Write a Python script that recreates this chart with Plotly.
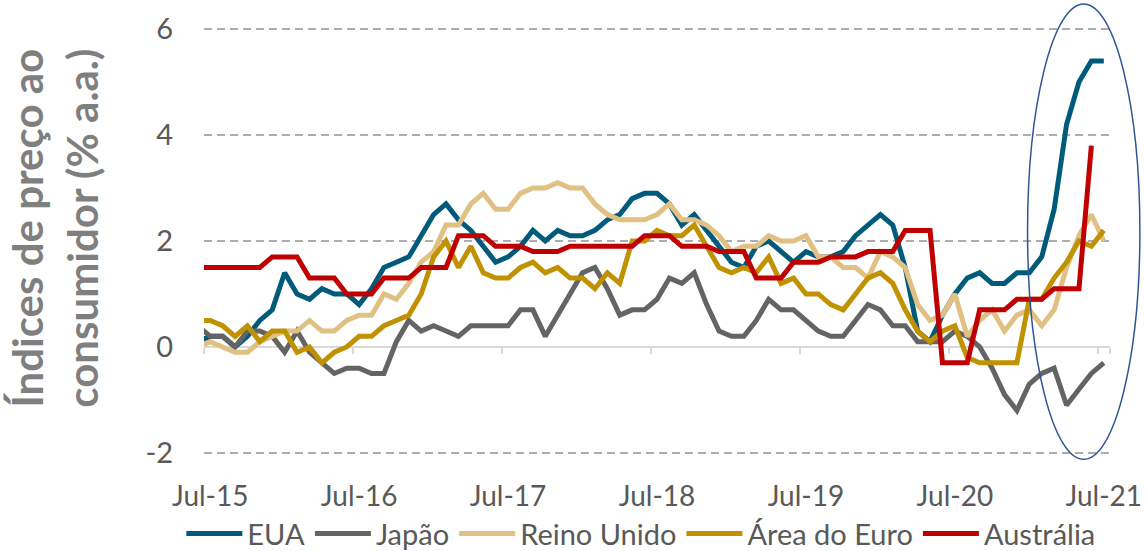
import plotly.graph_objects as go

# Monthly categories: Jun-15 ... Jul-21 (Jun-15 sits half a month left of the axis start)
months = (
    ["Jun-15", "Jul-15", "Ago-15", "Set-15", "Out-15", "Nov-15", "Dez-15"]
    + ["Jan-16", "Fev-16", "Mar-16", "Abr-16", "Mai-16", "Jun-16", "Jul-16", "Ago-16", "Set-16", "Out-16", "Nov-16", "Dez-16"]
    + ["Jan-17", "Fev-17", "Mar-17", "Abr-17", "Mai-17", "Jun-17", "Jul-17", "Ago-17", "Set-17", "Out-17", "Nov-17", "Dez-17"]
    + ["Jan-18", "Fev-18", "Mar-18", "Abr-18", "Mai-18", "Jun-18", "Jul-18", "Ago-18", "Set-18", "Out-18", "Nov-18", "Dez-18"]
    + ["Jan-19", "Fev-19", "Mar-19", "Abr-19", "Mai-19", "Jun-19", "Jul-19", "Ago-19", "Set-19", "Out-19", "Nov-19", "Dez-19"]
    + ["Jan-20", "Fev-20", "Mar-20", "Abr-20", "Mai-20", "Jun-20", "Jul-20", "Ago-20", "Set-20", "Out-20", "Nov-20", "Dez-20"]
    + ["Jan-21", "Fev-21", "Mar-21", "Abr-21", "Mai-21", "Jun-21", "Jul-21"]
)

tick_labels = ["Jul-15", "Jul-16", "Jul-17", "Jul-18", "Jul-19", "Jul-20", "Jul-21"]
y_ticks = [-2, 0, 2, 4, 6]

eua = [0.1,
       0.2, 0.2, 0.0, 0.2, 0.5, 0.7,
       1.4, 1.0, 0.9, 1.1, 1.0, 1.0, 0.8, 1.1, 1.5, 1.6, 1.7, 2.1,
       2.5, 2.7, 2.4, 2.2, 1.9, 1.6, 1.7, 1.9, 2.2, 2.0, 2.2, 2.1,
       2.1, 2.2, 2.4, 2.5, 2.8, 2.9, 2.9, 2.7, 2.3, 2.5, 2.2, 1.9,
       1.6, 1.5, 1.9, 2.0, 1.8, 1.6, 1.8, 1.7, 1.7, 1.8, 2.1, 2.3,
       2.5, 2.3, 1.5, 0.3, 0.1, 0.6, 1.0, 1.3, 1.4, 1.2, 1.2, 1.4,
       1.4, 1.7, 2.6, 4.2, 5.0, 5.4, 5.4]

japao = [0.4,
         0.2, 0.2, 0.0, 0.3, 0.3, 0.2,
         -0.1, 0.3, -0.1, -0.3, -0.5, -0.4, -0.4, -0.5, -0.5, 0.1, 0.5, 0.3,
         0.4, 0.3, 0.2, 0.4, 0.4, 0.4, 0.4, 0.7, 0.7, 0.2, 0.6, 1.0,
         1.4, 1.5, 1.1, 0.6, 0.7, 0.7, 0.9, 1.3, 1.2, 1.4, 0.8, 0.3,
         0.2, 0.2, 0.5, 0.9, 0.7, 0.7, 0.5, 0.3, 0.2, 0.2, 0.5, 0.8,
         0.7, 0.4, 0.4, 0.1, 0.1, 0.1, 0.3, 0.2, 0.0, -0.4, -0.9, -1.2,
         -0.7, -0.5, -0.4, -1.1, -0.8, -0.5, -0.3]

reino_unido = [0.0,
               0.1, 0.0, -0.1, -0.1, 0.1, 0.2,
               0.3, 0.3, 0.5, 0.3, 0.3, 0.5, 0.6, 0.6, 1.0, 0.9, 1.2, 1.6,
               1.8, 2.3, 2.3, 2.7, 2.9, 2.6, 2.6, 2.9, 3.0, 3.0, 3.1, 3.0,
               3.0, 2.7, 2.5, 2.4, 2.4, 2.4, 2.5, 2.7, 2.4, 2.4, 2.3, 2.1,
               1.8, 1.9, 1.9, 2.1, 2.0, 2.0, 2.1, 1.7, 1.7, 1.5, 1.5, 1.3,
               1.8, 1.7, 1.5, 0.8, 0.5, 0.6, 1.0, 0.2, 0.5, 0.7, 0.3, 0.6,
               0.7, 0.4, 0.7, 1.5, 2.1, 2.5, 2.0]

area_euro = [0.5,
             0.5, 0.4, 0.2, 0.4, 0.1, 0.3,
             0.3, -0.1, 0.0, -0.3, -0.1, 0.0, 0.2, 0.2, 0.4, 0.5, 0.6, 1.0,
             1.7, 2.0, 1.5, 1.9, 1.4, 1.3, 1.3, 1.5, 1.6, 1.4, 1.5, 1.3,
             1.3, 1.1, 1.4, 1.2, 2.0, 2.0, 2.2, 2.1, 2.1, 2.3, 1.9, 1.5,
             1.4, 1.5, 1.4, 1.7, 1.2, 1.3, 1.0, 1.0, 0.8, 0.7, 1.0, 1.3,
             1.4, 1.2, 0.7, 0.3, 0.1, 0.3, 0.4, -0.2, -0.3, -0.3, -0.3, -0.3,
             0.9, 0.9, 1.3, 1.6, 2.0, 1.9, 2.2]

australia = [1.5,
             1.5, 1.5, 1.5, 1.5, 1.5, 1.7,
             1.7, 1.7, 1.3, 1.3, 1.3, 1.0, 1.0, 1.0, 1.3, 1.3, 1.3, 1.5,
             1.5, 1.5, 2.1, 2.1, 2.1, 1.9, 1.9, 1.9, 1.8, 1.8, 1.8, 1.9,
             1.9, 1.9, 1.9, 1.9, 1.9, 2.1, 2.1, 2.1, 1.9, 1.9, 1.9, 1.8,
             1.8, 1.8, 1.3, 1.3, 1.3, 1.6, 1.6, 1.6, 1.7, 1.7, 1.7, 1.8,
             1.8, 1.8, 2.2, 2.2, 2.2, -0.3, -0.3, -0.3, 0.7, 0.7, 0.7, 0.9,
             0.9, 0.9, 1.1, 1.1, 1.1, 3.8, None]

series = [
    ("EUA", eua, "#005B7B"),
    ("Japão", japao, "#646464"),
    ("Reino Unido", reino_unido, "#E0C083"),
    ("Área do Euro", area_euro, "#C09100"),
    ("Austrália", australia, "#C00000"),
]

FONT = "Lato"
TXT = "#595959"

fig = go.Figure()
for name, vals, color in series:
    fig.add_trace(go.Scatter(
        x=months, y=vals, name=name, mode="lines",
        line=dict(color=color, width=5),
        xaxis="x2" if name == "Austrália" else "x",
        connectgaps=False,
    ))

W, H = 1145, 551
# y range padded a hair so gridlines at -2 and 6 are still drawn
YPAD = 0.04
Y0, Y1 = -2 - YPAD, 6 + YPAD
PX_PER_UNIT = 423 / 8.0
plot_h = (Y1 - Y0) * PX_PER_UNIT
T = 29.5 - YPAD * PX_PER_UNIT
B = H - T - plot_h
L, R = 204, 35

axis_common = dict(
    type="category",
    categoryorder="array",
    categoryarray=months,
    range=[0.5, len(months) - 0.5],
    showgrid=False,
    zeroline=False,
)

fig.update_layout(
    width=W, height=H,
    margin=dict(l=L, r=R, t=T, b=B, autoexpand=False),
    paper_bgcolor="white", plot_bgcolor="white",
    font=dict(family=FONT, color=TXT),
    xaxis=dict(
        **axis_common,
        tickmode="array", tickvals=tick_labels, ticktext=tick_labels,
        ticks="", showline=False,
        tickfont=dict(size=28, color=TXT),
        ticklabelstandoff=22,
    ),
    xaxis2=dict(
        **axis_common,
        overlaying="x", matches="x", anchor="free", position=(0 - Y0) / (Y1 - Y0),
        tickmode="array", tickvals=tick_labels,
        tickson="boundaries", ticks="outside", ticklen=6, tickwidth=2,
        tickcolor="#D9D9D9",
        showline=True, linecolor="#D9D9D9", linewidth=2,
        showticklabels=False, layer="below traces",
    ),
    yaxis=dict(
        range=[Y0, Y1], tickmode="array", tickvals=y_ticks,
        ticktext=[str(v) for v in y_ticks],
        showgrid=True, gridcolor="#ADADAD", gridwidth=1.6, griddash="8px,5px",
        zeroline=False, showline=False, ticks="",
        tickfont=dict(size=29, color=TXT),
        ticklabelstandoff=30,
    ),
    legend=dict(
        orientation="h", x=-0.025, xanchor="left", y=-0.184, yanchor="middle",
        font=dict(size=29, color=TXT), itemwidth=56,
        bgcolor="rgba(0,0,0,0)", traceorder="normal",
    ),
    showlegend=True,
)

fig.add_annotation(
    text="Índices de preço ao<br>consumidor (% a.a.)",
    xref="paper", yref="paper", x=-0.165, y=0.53,
    xanchor="center", yanchor="middle", textangle=-90, showarrow=False,
    font=dict(family=FONT, size=42, color="#7F7F7F", weight="bold"),
)

fig.add_shape(
    type="circle", xref="paper", yref="paper",
    x0=0.909, x1=1.033, y0=-0.01, y1=1.054,
    line=dict(color="#2F5597", width=1.5), fillcolor="rgba(0,0,0,0)",
)

fig.write_html(
    "out.html",
    config={"displayModeBar": False},
    post_script="document.body.style.margin='0px';document.body.style.overflow='hidden';",
)
